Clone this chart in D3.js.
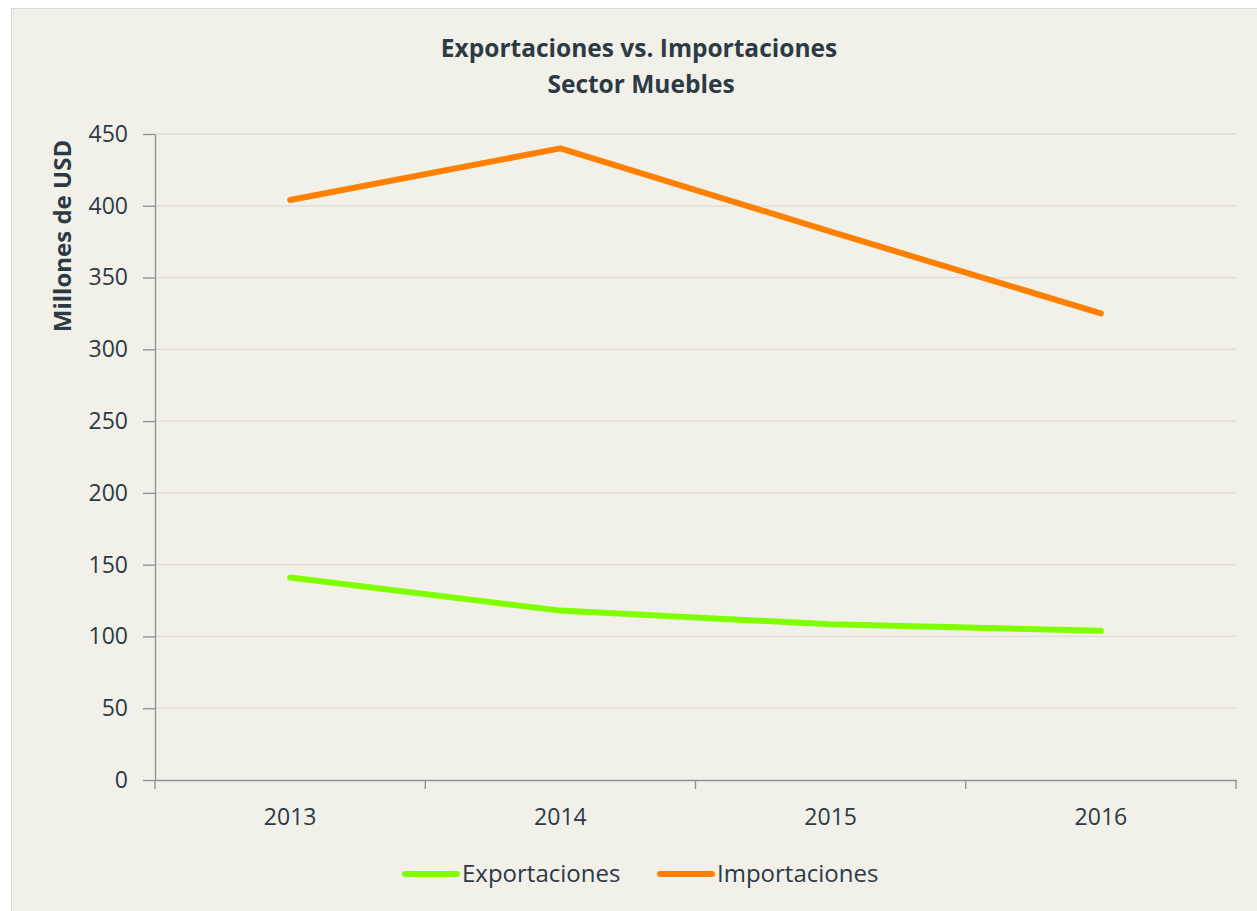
<!DOCTYPE html>
<html>
<head>
<meta charset="utf-8">
<script src="https://cdn.jsdelivr.net/npm/d3@7"></script>
<style>
  html, body { margin: 0; padding: 0; background: #fff; }
  svg { display: block; font-family: "Open Sans", sans-serif; }
</style>
</head>
<body>
<div id="chart"></div>
<script>
const years = ["2013", "2014", "2015", "2016"];
const exportaciones = [141, 118, 108.5, 104];
const importaciones = [404, 440, 382, 325];
const yTicks = [0, 50, 100, 150, 200, 250, 300, 350, 400, 450];

const W = 1257, H = 911;
const margin = { left: 155, right: 21, top: 134, bottom: 131 };
const textColor = "#2d3a45";
const font = "'Open Sans', sans-serif";

const svg = d3.select("#chart").append("svg")
  .attr("width", W).attr("height", H);

// fondo y borde
svg.append("rect")
  .attr("x", 11.5).attr("y", 8.5)
  .attr("width", W - 11).attr("height", H - 8)
  .attr("fill", "#f2f1e9").attr("stroke", "#d9d9d9");

const x = d3.scaleBand()
  .domain(years)
  .range([margin.left, W - margin.right]);

const y = d3.scaleLinear()
  .domain([0, 450])
  .range([H - margin.bottom, margin.top]);

// lineas de cuadricula
svg.append("g")
  .selectAll("line")
  .data(yTicks.filter(d => d > 0))
  .join("line")
  .attr("x1", margin.left).attr("x2", W - margin.right)
  .attr("y1", d => y(d)).attr("y2", d => y(d))
  .attr("stroke", "#dddcd6").attr("stroke-width", 1.3);

// eje Y
const yAxis = svg.append("g")
  .attr("transform", `translate(${margin.left},0)`)
  .call(d3.axisLeft(y).tickValues(yTicks).tickSize(12).tickPadding(15).tickSizeOuter(0))
  .attr("font-family", font);
yAxis.select(".domain").attr("stroke", "#8f8f8f").attr("stroke-width", 1.3);
yAxis.selectAll(".tick line").attr("stroke", "#8f8f8f").attr("stroke-width", 1.3);
yAxis.selectAll(".tick text")
  .attr("fill", textColor).style("font-size", "23px");

// eje X
const xAxis = svg.append("g")
  .attr("transform", `translate(0,${H - margin.bottom})`)
  .call(d3.axisBottom(x).tickSize(0).tickPadding(29))
  .attr("font-family", font);
xAxis.select(".domain").attr("stroke", "#8f8f8f").attr("stroke-width", 1.3);
xAxis.selectAll(".tick text")
  .attr("fill", textColor).style("font-size", "23px");

// marcas entre categorias
const bounds = years.map(d => x(d)).concat([x(years[years.length - 1]) + x.bandwidth()]);
xAxis.selectAll(".sep")
  .data(bounds)
  .join("line")
  .attr("class", "sep")
  .attr("x1", d => d).attr("x2", d => d)
  .attr("y1", 0).attr("y2", 9)
  .attr("stroke", "#8f8f8f").attr("stroke-width", 1.3);

// lineas de datos
const line = d3.line()
  .x((d, i) => x(years[i]) + x.bandwidth() / 2)
  .y(d => y(d));

const series = [
  { name: "Exportaciones", values: exportaciones, color: "#80ff00" },
  { name: "Importaciones", values: importaciones, color: "#ff8000" }
];

svg.append("g")
  .selectAll("path")
  .data(series)
  .join("path")
  .attr("d", d => line(d.values))
  .attr("fill", "none")
  .attr("stroke", d => d.color)
  .attr("stroke-width", 6)
  .attr("stroke-linecap", "round")
  .attr("stroke-linejoin", "round");

// titulo
const title = svg.append("text")
  .attr("text-anchor", "middle")
  .attr("fill", textColor)
  .style("font-size", "24.5px")
  .style("font-weight", "bold");
title.append("tspan").attr("x", 639).attr("y", 57).text("Exportaciones vs. Importaciones");
title.append("tspan").attr("x", 641).attr("y", 93).text("Sector Muebles");

// titulo eje Y
svg.append("text")
  .attr("transform", "translate(71,236) rotate(-90)")
  .attr("text-anchor", "middle")
  .attr("fill", textColor)
  .style("font-size", "24px")
  .style("font-weight", "bold")
  .text("Millones de USD");

// leyenda
const legendX = [405, 660];
const legend = svg.append("g")
  .selectAll("g")
  .data(series)
  .join("g")
  .attr("transform", (d, i) => `translate(${legendX[i]},874)`);
legend.append("line")
  .attr("x1", 0).attr("x2", 52)
  .attr("stroke", d => d.color)
  .attr("stroke-width", 6)
  .attr("stroke-linecap", "round");
legend.append("text")
  .attr("x", 57).attr("dy", "0.35em")
  .attr("fill", textColor)
  .style("font-size", "24px")
  .text(d => d.name);
</script>
</body>
</html>
